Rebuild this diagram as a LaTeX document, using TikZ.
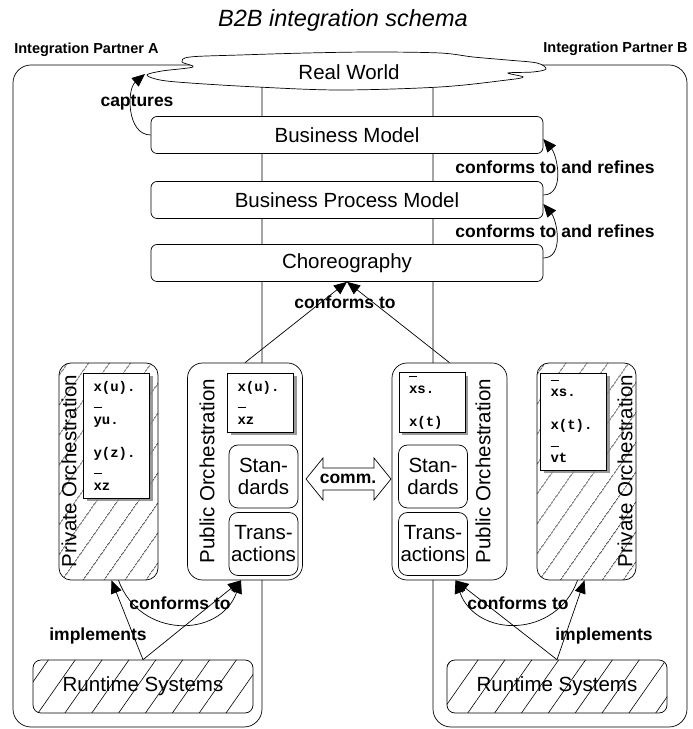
\documentclass[tikz,border=0pt]{standalone}
\usepackage{fontspec}
\setmainfont{Liberation Sans}
\newfontfamily\codefont{Liberation Mono}
\usetikzlibrary{arrows.meta, calc, patterns.meta, shadows}

\newcommand{\chanbar}[1]{\leavevmode\rlap{\raisebox{16pt}{\rule{8pt}{1pt}}}#1}

\begin{document}
\begin{tikzpicture}[x=1pt, y=1pt, line width=.7pt,
		boxfont/.style={font=\fontsize{20.5}{22}\selectfont},
		lbl/.style={font=\fontsize{17.5}{20}\selectfont\bfseries, inner sep=0pt},
		layer/.style={draw, fill=white, rounded corners=6pt, minimum width=392pt, minimum height=37pt, boxfont},
		hatch/.style={pattern={Lines[angle=55, distance=#1, line width=.6pt]}},
		orch/.style={draw, fill=white, rounded corners=15pt, minimum width=115pt, minimum height=217pt},
		privorch/.style={draw, hatch=17pt, rounded corners=12pt, minimum width=99pt, minimum height=217pt},
		procbox/.style={draw, fill=white, drop shadow={shadow xshift=3pt, shadow yshift=-3pt, fill=gray, opacity=.8}, align=left, text width=46pt, inner xsep=10pt, font=\codefont\bfseries\fontsize{14}{33}\selectfont},
		subbox/.style={draw, fill=white, rounded corners=9pt, minimum width=69pt, minimum height=63pt, align=center, inner sep=0pt, boxfont},
		runtime/.style={draw, hatch=22pt, rounded corners=8pt, minimum width=220pt, minimum height=53pt, boxfont},
		arr/.style={-{Triangle[length=13pt, width=11pt]}}]
	\fill[white] (0,0) rectangle (693,729);
	\node[font=\fontsize{23.5}{26}\selectfont\itshape] (title) at (343,709) {B2B integration schema};
	\node[font=\fontsize{14.5}{16}\selectfont\bfseries, anchor=west, inner sep=0pt] (partA) at (14,679) {Integration Partner A};
	\node[font=\fontsize{14.5}{16}\selectfont\bfseries, anchor=east, inner sep=0pt] (partB) at (688,680) {Integration Partner B};
	% partner areas
	\draw[rounded corners=18pt] (13,2) rectangle (262,664);
	\draw[rounded corners=18pt] (433,2) rectangle (687,664);

	% real world cloud
	\draw[fill=white] plot[smooth cycle, tension=.55] coordinates {(147,654) (162,658) (193,662) (182,667) (190,672) (240,674) (307,676) (373,677) (440,676) (473,672) (507,669) (537,666) (546,660) (533,657) (508,656) (523,652) (507,649) (440,642) (340,639) (257,642) (190,646) (160,649)};
	\coordinate (rwtip) at (145,655);
	\node[boxfont] (rw) at (349,657) {Real World};
	\node[layer] (bm) at (347,594) {Business Model};
	\node[layer] (bpm) at (347,529) {Business Process Model};
	\node[layer] (chor) at (347,466) {Choreography};

	\draw[arr] (bm.west) to[out=180, in=-140] (rwtip);
	\node[lbl] (capt) at (137,626) {captures};
	\draw[arr] ([yshift=5pt]bpm.east) to[out=0, in=-50] ([yshift=-4pt]bm.east);
	\draw[arr] ([yshift=5pt]chor.east) to[out=0, in=-50] ([yshift=-4pt]bpm.east);
	\node[lbl] (refA) at (555,562) {conforms to and refines};
	\node[lbl] (refB) at (555,498) {conforms to and refines};

	% orchestrations
	\node[privorch] (privA) at (108.5,257.5) {};
	\node[orch] (pubA) at (245,257.5) {};
	\node[orch] (pubB) at (449.5,257.5) {};
	\node[privorch] (privB) at (586.5,257.5) {};
	\node[boxfont, rotate=90, inner sep=0pt] (privAlbl) at (69,258) {Private Orchestration};
	\node[boxfont, rotate=90, inner sep=0pt] (pubAlbl) at (207,258) {Public Orchestration};
	\node[boxfont, rotate=90, inner sep=0pt] (pubBlbl) at (483,258) {Public Orchestration};
	\node[boxfont, rotate=90, inner sep=0pt] (privBlbl) at (625,258) {Private Orchestration};

	\node[procbox, minimum height=125pt] (procA) at (116.5,293.5) {x(u).\\\chanbar{y}u.\\y(z).\\\chanbar{x}z};
	\node[procbox, minimum height=59pt] (pubprocA) at (260.5,326.5) {x(u).\\\chanbar{x}z};
	\node[procbox, minimum height=59pt] (pubprocB) at (432,326.5) {\chanbar{x}s.\\x(t)};
	\node[procbox, minimum height=97pt] (procB) at (573.5,307.5) {\chanbar{x}s.\\x(t).\\\chanbar{v}t};

	\node[subbox] (stdA) at (263.5,252.5) {Stan-\\dards};
	\node[subbox] (trA) at (263.5,185) {Trans-\\actions};
	\node[subbox] (stdB) at (433,252.5) {Stan-\\dards};
	\node[subbox] (trB) at (433,185) {Trans-\\actions};

	\node[lbl] (comm) at (348,250) {comm.};
	\draw ($(comm)+(-42,0)$) -- ++(17,21) -- ++(0,-10) -- ++(51,0) -- ++(0,10) -- ++(17,-21) -- ++(-17,-21) -- ++(0,10) -- ++(-51,0) -- ++(0,-10) -- cycle;

	\draw[arr] (pubA.north) -- (chor.south);
	\draw[arr] (pubB.north) -- (chor.south);
	\node[lbl] (conf) at (345,427) {conforms to};

	% runtime level
	\node[runtime] (rtA) at (143,42.5) {Runtime Systems};
	\node[runtime] (rtB) at (557,42.5) {Runtime Systems};
	\draw[arr] (rtA.north) -- ([xshift=3pt]privA.south);
	\draw[arr] (rtA.north) -- ([xshift=-4pt]pubA.south);
	\draw[arr] ([xshift=10pt]privA.south) to[out=-70, in=-110, looseness=1.3] ([xshift=-4pt]pubA.south);
	\node[lbl] (implA) at (98,93) {implements};
	\node[lbl] (confA) at (180,126) {conforms to};
	\draw[arr] (rtB.north) -- ([xshift=6pt]pubB.south);
	\draw[arr] (rtB.north) -- ([xshift=-2pt]privB.south);
	\draw[arr] ([xshift=-9pt]privB.south) to[out=-110, in=-70, looseness=1.3] ([xshift=6pt]pubB.south);
	\node[lbl] (implB) at (604,93) {implements};
	\node[lbl] (confB) at (518,126) {conforms to};
\end{tikzpicture}
\end{document}
